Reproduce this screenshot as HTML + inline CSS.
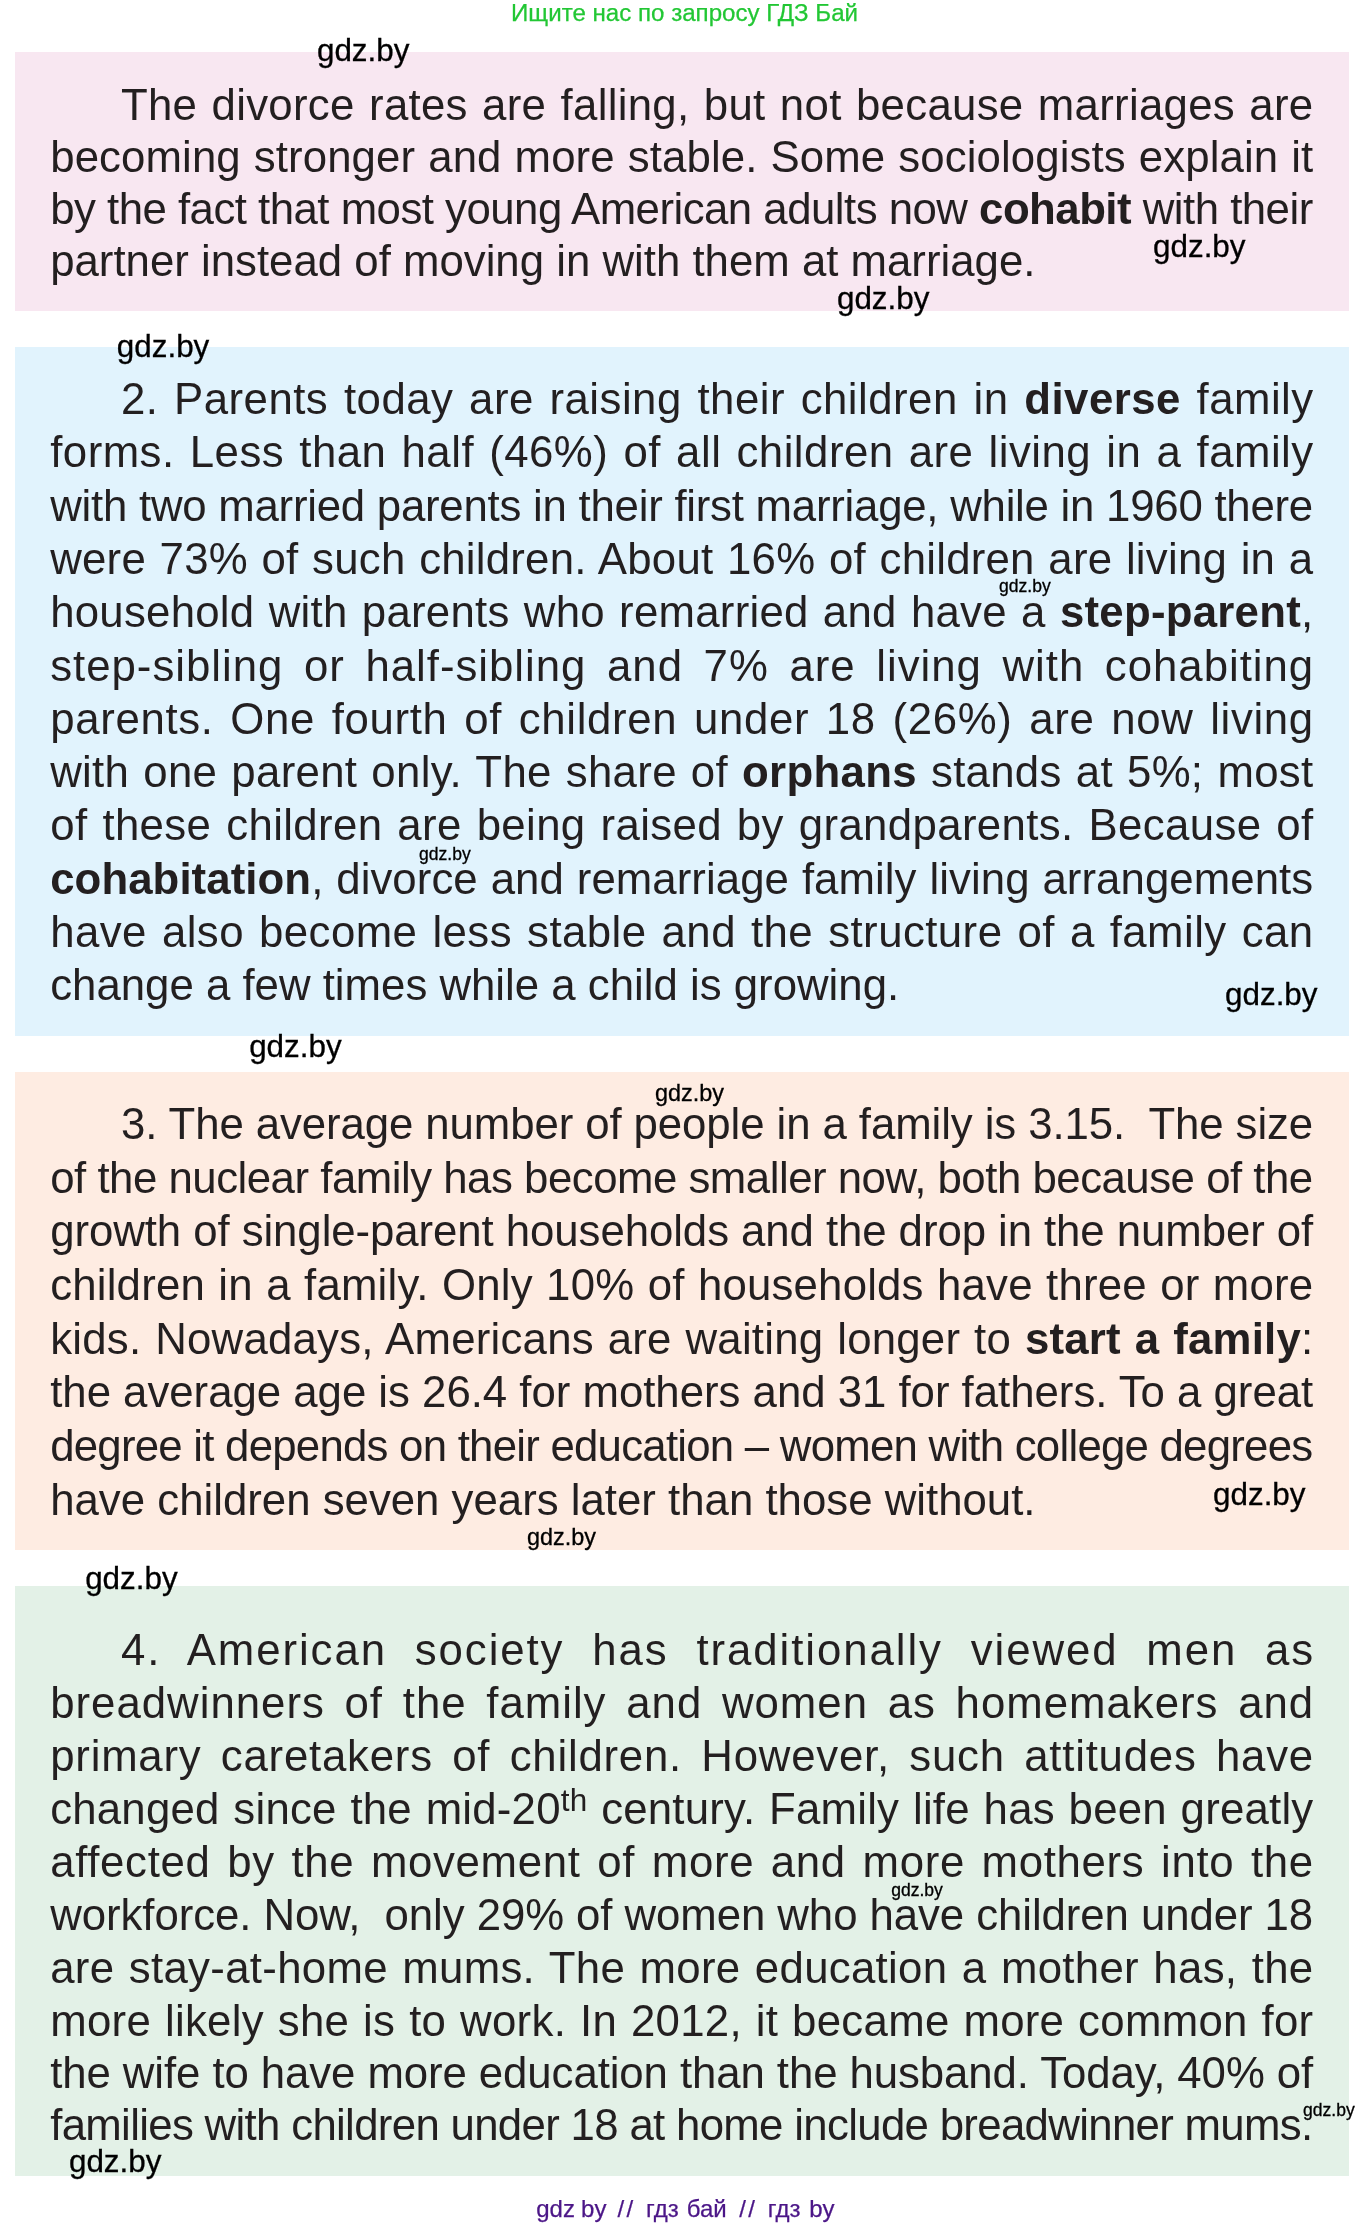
<!DOCTYPE html><html><head><meta charset="utf-8"><title>gdz</title><style>

html,body{margin:0;padding:0;background:#fff;}
body{width:1372px;height:2227px;position:relative;overflow:hidden;font-family:"Liberation Sans",sans-serif;}
#pg{position:absolute;left:0;top:0;width:1372px;height:2227px;will-change:transform;}
.bx{position:absolute;}
.ln{position:absolute;white-space:nowrap;color:#231f20;line-height:1;font-kerning:normal;}
.ln b{font-weight:bold;}
.ln sup{font-size:72%;vertical-align:baseline;position:relative;top:-0.424em;line-height:0;}
.wm{position:absolute;white-space:nowrap;color:#000;line-height:1;-webkit-text-stroke:0.3px #000;}
.hd{position:absolute;white-space:nowrap;line-height:1;-webkit-text-stroke:0.25px currentColor;}

</style></head><body><div id="pg">
<div class="hd" style="left:511.0px;top:0.58px;font-size:24.12px;color:#22c734;">Ищите нас по запросу ГДЗ Бай</div>
<div class="bx" style="left:14.5px;top:52.0px;width:1334.5px;height:259.0px;background:#f8e7f1;"></div>
<div class="bx" style="left:14.5px;top:347.0px;width:1334.5px;height:689.0px;background:#e1f3fd;"></div>
<div class="bx" style="left:14.5px;top:1072.0px;width:1334.5px;height:478.3px;background:#feece2;"></div>
<div class="bx" style="left:14.5px;top:1586.0px;width:1334.5px;height:589.5px;background:#e3f1e7;"></div>
<div class="ln" style="left:120.90px;top:82.95px;font-size:43.77px;letter-spacing:0.291px;word-spacing:1.906px;">The divorce rates are falling, but not because marriages are</div>
<div class="ln" style="left:50.20px;top:134.95px;font-size:43.77px;letter-spacing:0.102px;word-spacing:0.787px;">becoming stronger and more stable. Some sociologists explain it</div>
<div class="ln" style="left:50.20px;top:186.95px;font-size:43.77px;letter-spacing:-0.516px;">by the fact that most young American adults now <b>cohabit</b> with their</div>
<div class="ln" style="left:50.20px;top:238.95px;font-size:43.77px;">partner instead of moving in with them at marriage.</div>
<div class="ln" style="left:120.90px;top:376.95px;font-size:43.77px;letter-spacing:0.469px;word-spacing:3.123px;">2. Parents today are raising their children in <b>diverse</b> family</div>
<div class="ln" style="left:50.20px;top:429.95px;font-size:43.77px;letter-spacing:0.472px;word-spacing:2.556px;">forms. Less than half (46%) of all children are living in a family</div>
<div class="ln" style="left:50.20px;top:483.95px;font-size:43.77px;letter-spacing:-0.242px;">with two married parents in their first marriage, while in 1960 there</div>
<div class="ln" style="left:50.20px;top:536.95px;font-size:43.77px;letter-spacing:0.234px;word-spacing:1.231px;">were 73% of such children. About 16% of children are living in a</div>
<div class="ln" style="left:50.20px;top:589.95px;font-size:43.77px;letter-spacing:0.251px;word-spacing:1.851px;">household with parents who remarried and have a <b>step-parent</b>,</div>
<div class="ln" style="left:50.20px;top:643.95px;font-size:43.77px;letter-spacing:0.980px;word-spacing:7.475px;">step-sibling or half-sibling and 7% are living with cohabiting</div>
<div class="ln" style="left:50.20px;top:696.95px;font-size:43.77px;letter-spacing:0.652px;word-spacing:3.911px;">parents. One fourth of children under 18 (26%) are now living</div>
<div class="ln" style="left:50.20px;top:749.95px;font-size:43.77px;letter-spacing:0.301px;word-spacing:1.642px;">with one parent only. The share of <b>orphans</b> stands at 5%; most</div>
<div class="ln" style="left:50.20px;top:802.95px;font-size:43.77px;letter-spacing:0.361px;word-spacing:2.449px;">of these children are being raised by grandparents. Because of</div>
<div class="ln" style="left:50.20px;top:856.95px;font-size:43.77px;letter-spacing:0.064px;word-spacing:0.661px;"><b>cohabitation</b>, divorce and remarriage family living arrangements</div>
<div class="ln" style="left:50.20px;top:909.95px;font-size:43.77px;letter-spacing:0.442px;word-spacing:2.451px;">have also become less stable and the structure of a family can</div>
<div class="ln" style="left:50.20px;top:962.95px;font-size:43.77px;">change a few times while a child is growing.</div>
<div class="ln" style="left:120.90px;top:1101.95px;font-size:43.77px;letter-spacing:-0.090px;">3. The average number of people in a family is 3.15.&nbsp; The size</div>
<div class="ln" style="left:50.20px;top:1155.95px;font-size:43.77px;letter-spacing:-0.488px;">of the nuclear family has become smaller now, both because of the</div>
<div class="ln" style="left:50.20px;top:1208.95px;font-size:43.77px;letter-spacing:-0.073px;">growth of single-parent households and the drop in the number of</div>
<div class="ln" style="left:50.20px;top:1262.95px;font-size:43.77px;letter-spacing:0.186px;word-spacing:1.051px;">children in a family. Only 10% of households have three or more</div>
<div class="ln" style="left:50.20px;top:1316.95px;font-size:43.77px;letter-spacing:0.220px;word-spacing:1.513px;">kids. Nowadays, Americans are waiting longer to <b>start a family</b>:</div>
<div class="ln" style="left:50.20px;top:1369.95px;font-size:43.77px;letter-spacing:-0.020px;">the average age is 26.4 for mothers and 31 for fathers. To a great</div>
<div class="ln" style="left:50.20px;top:1423.95px;font-size:43.77px;letter-spacing:-0.757px;">degree it depends on their education – women with college degrees</div>
<div class="ln" style="left:50.20px;top:1477.95px;font-size:43.77px;">have children seven years later than those without.</div>
<div class="ln" style="left:120.90px;top:1627.95px;font-size:43.77px;letter-spacing:1.925px;word-spacing:13.750px;">4. American society has traditionally viewed men as</div>
<div class="ln" style="left:50.20px;top:1680.95px;font-size:43.77px;letter-spacing:0.991px;word-spacing:6.565px;">breadwinners of the family and women as homemakers and</div>
<div class="ln" style="left:50.20px;top:1733.95px;font-size:43.77px;letter-spacing:0.767px;word-spacing:6.465px;">primary caretakers of children. However, such attitudes have</div>
<div class="ln" style="left:50.20px;top:1786.95px;font-size:43.77px;letter-spacing:0.207px;word-spacing:1.446px;">changed since the mid-20<sup>th</sup> century. Family life has been greatly</div>
<div class="ln" style="left:50.20px;top:1839.95px;font-size:43.77px;letter-spacing:0.672px;word-spacing:3.832px;">affected by the movement of more and more mothers into the</div>
<div class="ln" style="left:50.20px;top:1892.95px;font-size:43.77px;letter-spacing:-0.074px;">workforce. Now,&nbsp; only 29% of women who have children under 18</div>
<div class="ln" style="left:50.20px;top:1945.95px;font-size:43.77px;letter-spacing:0.305px;word-spacing:1.964px;">are stay-at-home mums. The more education a mother has, the</div>
<div class="ln" style="left:50.20px;top:1998.95px;font-size:43.77px;letter-spacing:0.284px;word-spacing:1.443px;">more likely she is to work. In 2012, it became more common for</div>
<div class="ln" style="left:50.20px;top:2050.95px;font-size:43.77px;letter-spacing:-0.088px;">the wife to have more education than the husband. Today, 40% of</div>
<div class="ln" style="left:50.20px;top:2102.95px;font-size:43.77px;letter-spacing:-0.677px;">families with children under 18 at home include breadwinner mums.</div>
<div class="wm" style="left:316.94px;top:34.77px;font-size:31.40px;">gdz.by</div>
<div class="wm" style="left:1153.04px;top:230.67px;font-size:31.40px;">gdz.by</div>
<div class="wm" style="left:836.94px;top:282.87px;font-size:31.40px;">gdz.by</div>
<div class="wm" style="left:116.84px;top:331.47px;font-size:31.40px;">gdz.by</div>
<div class="wm" style="left:999.10px;top:577.94px;font-size:17.55px;">gdz.by</div>
<div class="wm" style="left:419.10px;top:845.94px;font-size:17.55px;">gdz.by</div>
<div class="wm" style="left:1225.04px;top:979.17px;font-size:31.40px;">gdz.by</div>
<div class="wm" style="left:249.14px;top:1031.27px;font-size:31.40px;">gdz.by</div>
<div class="wm" style="left:654.96px;top:1082.14px;font-size:23.40px;">gdz.by</div>
<div class="wm" style="left:1213.04px;top:1479.17px;font-size:31.40px;">gdz.by</div>
<div class="wm" style="left:526.96px;top:1526.24px;font-size:23.40px;">gdz.by</div>
<div class="wm" style="left:85.14px;top:1562.97px;font-size:31.40px;">gdz.by</div>
<div class="wm" style="left:891.20px;top:1882.04px;font-size:17.55px;">gdz.by</div>
<div class="wm" style="left:1303.00px;top:2101.84px;font-size:17.55px;">gdz.by</div>
<div class="wm" style="left:68.94px;top:2146.27px;font-size:31.40px;">gdz.by</div>
<div class="hd" style="left:536.20px;top:2196.68px;font-size:24px;color:#4b1687;">gdz</div>
<div class="hd" style="left:581.10px;top:2196.68px;font-size:24px;color:#4b1687;">by</div>
<div class="hd" style="left:617.50px;top:2196.68px;font-size:24px;color:#4b1687;letter-spacing:2.3px;">//</div>
<div class="hd" style="left:646.10px;top:2196.68px;font-size:24px;color:#4b1687;">гдз</div>
<div class="hd" style="left:686.70px;top:2196.68px;font-size:24px;color:#4b1687;">бай</div>
<div class="hd" style="left:739.20px;top:2196.68px;font-size:24px;color:#4b1687;letter-spacing:2.3px;">//</div>
<div class="hd" style="left:767.80px;top:2196.68px;font-size:24px;color:#4b1687;">гдз</div>
<div class="hd" style="left:809.20px;top:2196.68px;font-size:24px;color:#4b1687;">by</div>
</div></body></html>
